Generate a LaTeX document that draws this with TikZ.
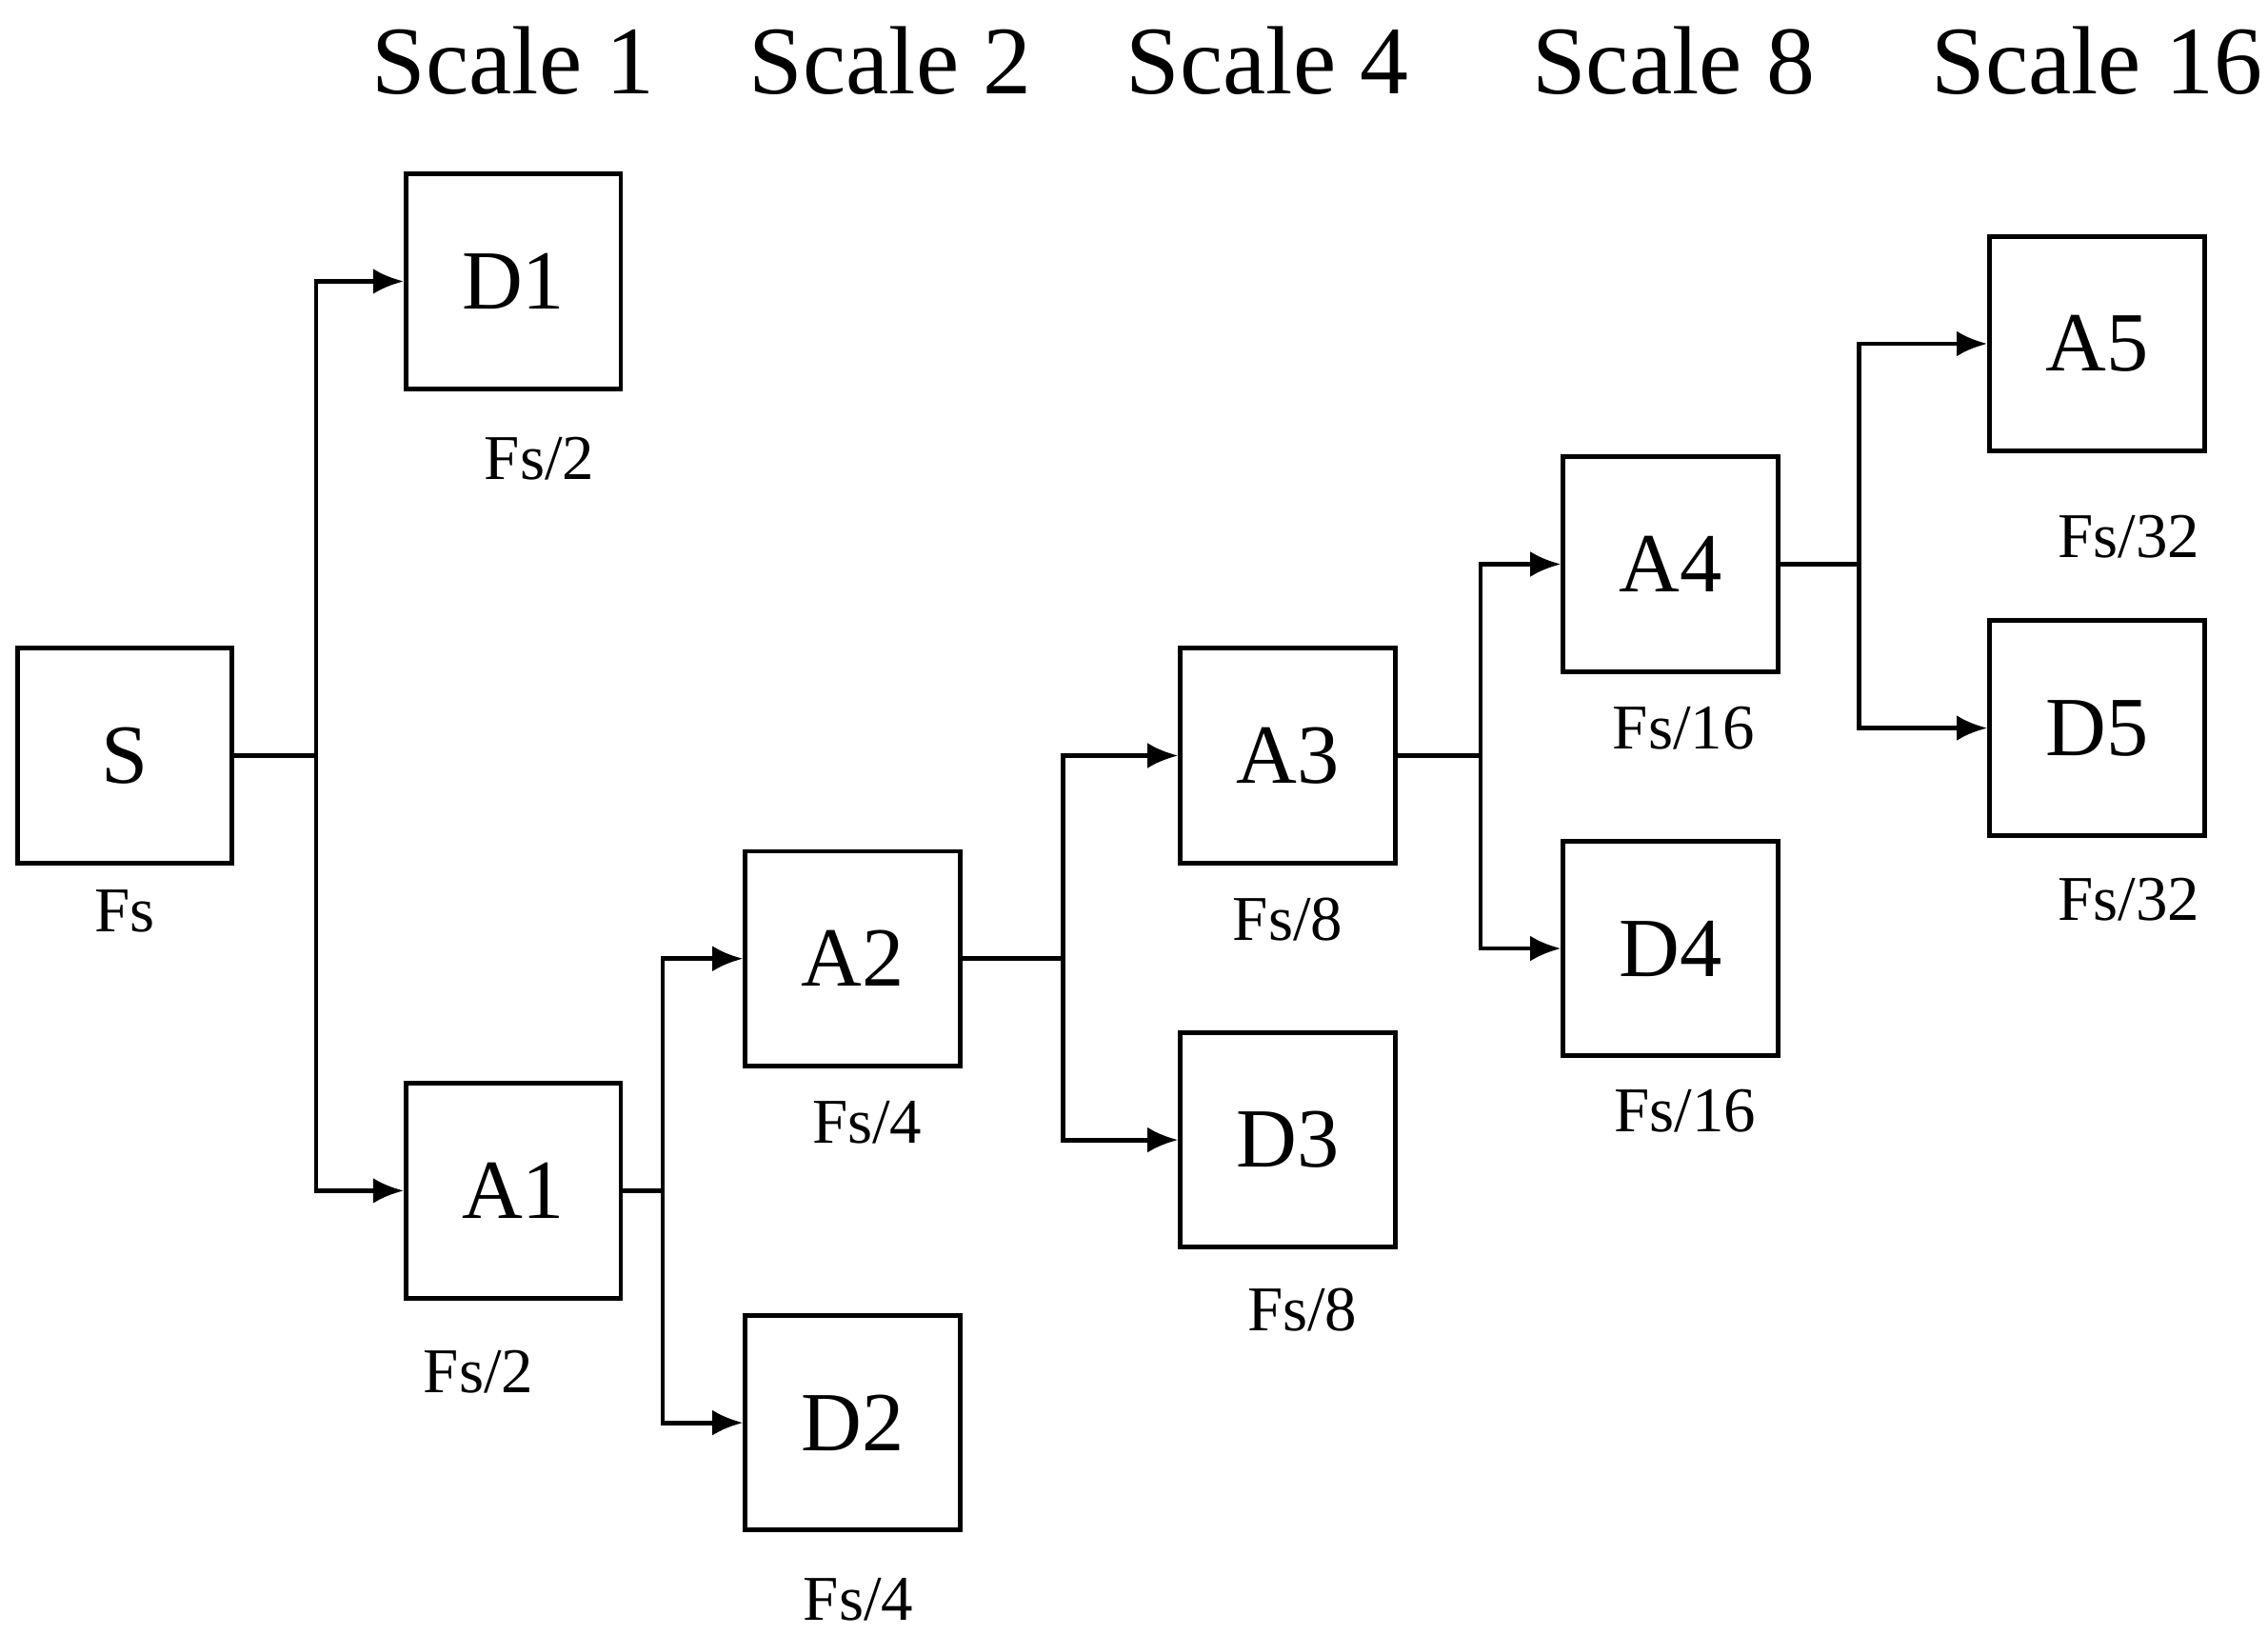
\documentclass[tikz,border=0pt]{standalone}
\usepackage{fontspec}
\setmainfont{Liberation Serif}
\usetikzlibrary{arrows.meta}
\begin{document}
\begin{tikzpicture}[x=0.01cm,y=-0.01cm,
  box/.style={draw,line width=0.9pt,minimum size=1.48cm,inner sep=0pt,font=\fontsize{16.5}{18}\selectfont},
  lab/.style={font=\fontsize{12.5}{14}\selectfont},
  hd/.style={font=\fontsize{19}{22}\selectfont},
  ln/.style={line width=0.9pt},
  ar/.style={ln,-{Latex[length=6pt,width=5pt]}}]
\useasboundingbox (0,0) rectangle (1564,1127);
\node[box] (S) at (86,521) {S};
\node[box] (D1) at (354,194) {D1};
\node[box] (A1) at (354,821) {A1};
\node[box] (A2) at (588,661) {A2};
\node[box] (D2) at (588,981) {D2};
\node[box] (A3) at (888,521) {A3};
\node[box] (D3) at (888,786) {D3};
\node[box] (A4) at (1152,389) {A4};
\node[box] (D4) at (1152,654) {D4};
\node[box] (A5) at (1446,237) {A5};
\node[box] (D5) at (1446,502) {D5};
\foreach \n/\x/\t in {h1/354/Scale 1,h2/614/Scale 2,h4/874/Scale 4,h8/1154/Scale 8,h16/1446/Scale 16}
  \node[hd] (\n) at (\x,42) {\t};
\node[lab] (l0) at (86,628) {Fs};
\node[lab] (l1) at (372,316) {Fs/2};
\node[lab] (l2) at (330,946) {Fs/2};
\node[lab] (l3) at (598,774) {Fs/4};
\node[lab] (l4) at (592,1103) {Fs/4};
\node[lab] (l5) at (888,634) {Fs/8};
\node[lab] (l6) at (898,903) {Fs/8};
\node[lab] (l7) at (1161,502) {Fs/16};
\node[lab] (l8) at (1162,766) {Fs/16};
\node[lab] (l9) at (1468,370) {Fs/32};
\node[lab] (l10) at (1468,620) {Fs/32};
\coordinate (b1) at (218,521);
\coordinate (b2) at (457,821);
\coordinate (b3) at (733,661);
\coordinate (b4) at (1021,521);
\coordinate (b5) at (1282,389);
\draw[ln] (S.east) -- (b1);
\draw[ar] (b1) |- (D1.west);
\draw[ar] (b1) |- (A1.west);
\draw[ln] (A1.east) -- (b2);
\draw[ar] (b2) |- (A2.west);
\draw[ar] (b2) |- (D2.west);
\draw[ln] (A2.east) -- (b3);
\draw[ar] (b3) |- (A3.west);
\draw[ar] (b3) |- (D3.west);
\draw[ln] (A3.east) -- (b4);
\draw[ar] (b4) |- (A4.west);
\draw[ar] (b4) |- (D4.west);
\draw[ln] (A4.east) -- (b5);
\draw[ar] (b5) |- (A5.west);
\draw[ar] (b5) |- (D5.west);
\end{tikzpicture}
\end{document}
